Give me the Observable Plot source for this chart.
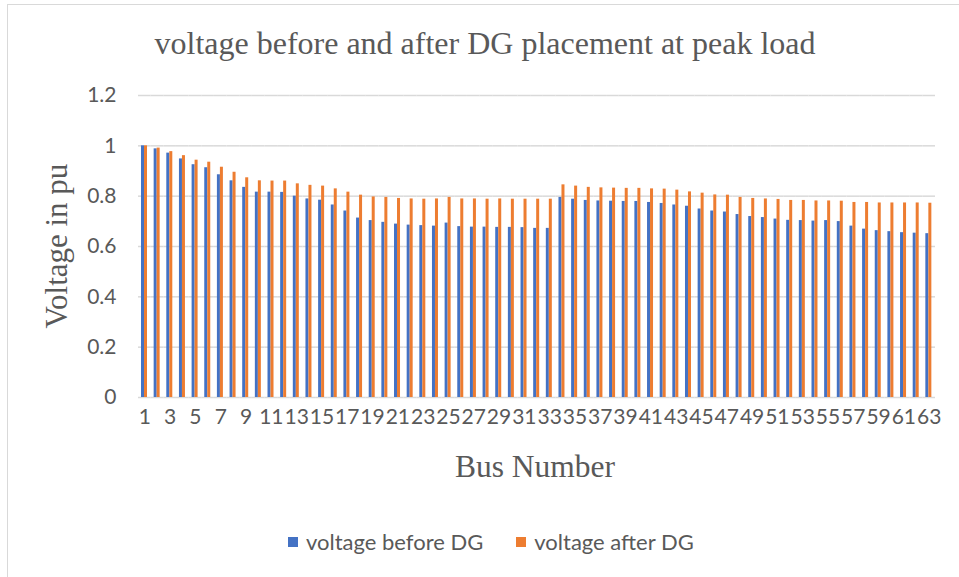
<!DOCTYPE html>
<html>
<head>
<meta charset="utf-8">
<script src="https://cdn.jsdelivr.net/npm/d3@7"></script>
<script src="https://cdn.jsdelivr.net/npm/@observablehq/plot@0.6"></script>
<style>
  body { margin: 0; background: #fff; }
  #wrap { position: relative; width: 959px; height: 577px; overflow: hidden; background: #fff; }
  #border { position: absolute; left: 7px; top: 4px; width: 960px; height: 580px; border-left: 1.5px solid #d9d9d9; border-top: 1.5px solid #d9d9d9; }
  #chart { position: absolute; left: 0; top: 0; }
  .serif { font-family: "Liberation Serif", "Times New Roman", serif; color: #595959; position: absolute; white-space: nowrap; }
  #title { left: 0; width: 970px; text-align: center; top: 25px; font-size: 32px; }
  #xtitle { left: 0; width: 1070px; text-align: center; top: 449px; font-size: 31.5px; }
  #ytitle { left: 56px; top: 246px; font-size: 31px; line-height: 1; transform: translate(-50%, -50%) rotate(-90deg); }
  #legend { position: absolute; top: 528px; left: 288px; font-family: Lato, "Open Sans", sans-serif; font-size: 22px; color: #595959; display: flex; align-items: center; white-space: nowrap; }
  .sw { display: inline-block; width: 10px; height: 10px; margin-right: 8px; }
</style>
</head>
<body>
<div id="wrap">
  <div id="border"></div>
  <div id="chart"></div>
  <div id="title" class="serif">voltage before and after DG placement at peak load</div>
  <div id="xtitle" class="serif">Bus Number</div>
  <div id="ytitle" class="serif">Voltage in pu</div>
  <div id="legend"></div>
</div>
<script>
const buses = d3.range(1, 64);
const seriesNames = ["voltage before DG", "voltage after DG"];
const seriesColors = ["#4472C4", "#ED7D31"];
const yTicks = [0, 0.2, 0.4, 0.6, 0.8, 1, 1.2];
const before = [
  1.000, 0.988, 0.971, 0.948, 0.925, 0.913, 0.885, 0.861, 0.835, 0.816,
  0.816, 0.815, 0.800, 0.789, 0.784, 0.765, 0.741, 0.713, 0.703, 0.696,
  0.689, 0.685, 0.683, 0.681, 0.693, 0.679, 0.677, 0.677, 0.676, 0.676,
  0.675, 0.672, 0.672, 0.795, 0.788, 0.783, 0.781, 0.780, 0.779, 0.779,
  0.775, 0.771, 0.765, 0.760, 0.749, 0.741, 0.737, 0.727, 0.719, 0.715,
  0.709, 0.704, 0.703, 0.701, 0.703, 0.699, 0.681, 0.669, 0.663, 0.659,
  0.655, 0.653, 0.651
];
const after = [
  1.000, 0.991, 0.977, 0.961, 0.943, 0.935, 0.915, 0.895, 0.873, 0.861,
  0.860, 0.860, 0.849, 0.843, 0.840, 0.829, 0.816, 0.804, 0.797, 0.795,
  0.791, 0.789, 0.788, 0.789, 0.795, 0.789, 0.789, 0.788, 0.789, 0.788,
  0.788, 0.788, 0.788, 0.845, 0.840, 0.835, 0.833, 0.832, 0.831, 0.831,
  0.829, 0.828, 0.824, 0.817, 0.812, 0.805, 0.804, 0.795, 0.791, 0.789,
  0.787, 0.783, 0.783, 0.781, 0.781, 0.780, 0.775, 0.775, 0.773, 0.773,
  0.773, 0.773, 0.772
];

const data = [];
buses.forEach((b, i) => {
  data.push({bus: b, series: seriesNames[0], v: before[i]});
  data.push({bus: b, series: seriesNames[1], v: after[i]});
});

const chart = Plot.plot({
  width: 959,
  height: 577,
  marginLeft: 138,
  marginRight: 24,
  marginTop: 95,
  marginBottom: 180,
  style: {fontFamily: "Lato, 'Open Sans', sans-serif", fontSize: "21px", color: "#595959", background: "transparent", overflow: "visible"},
  fx: {domain: buses, padding: 0, label: null, tickSize: 0, tickPadding: 12,
       tickFormat: d => (d % 2 === 1 ? String(d) : "")},
  x: {domain: seriesNames, axis: null, paddingInner: 0.08, paddingOuter: 1.14},
  y: {domain: [0, 1.2], ticks: yTicks, tickSize: 0, tickPadding: 22, label: null,
      tickFormat: d => String(+d.toFixed(1))},
  color: {domain: seriesNames, range: seriesColors},
  marks: [
    Plot.ruleY(yTicks, {stroke: "#d9d9d9", strokeWidth: 1.5, facet: "exclude", fx: null}),
    Plot.barY(data, {fx: "bus", x: "series", y: "v", fill: "series"})
  ]
});
document.getElementById("chart").appendChild(chart);

const lg = document.getElementById("legend");
seriesNames.forEach((n, i) => {
  const s = document.createElement("span");
  s.className = "sw";
  s.style.background = seriesColors[i];
  lg.appendChild(s);
  const t = document.createElement("span");
  t.textContent = n;
  t.style.marginRight = i === 0 ? "33px" : "0";
  lg.appendChild(t);
});
</script>
</body>
</html>
